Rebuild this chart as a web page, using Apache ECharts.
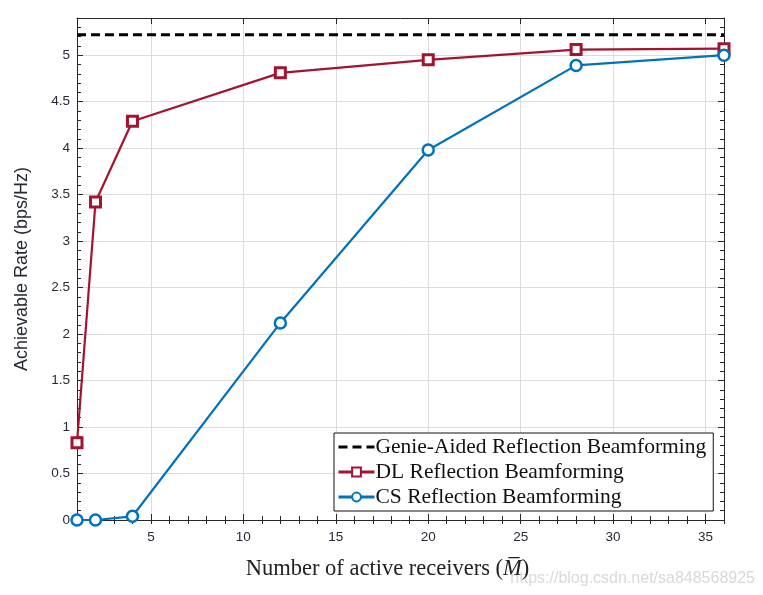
<!DOCTYPE html>
<html><head><meta charset="utf-8">
<script src="https://cdn.jsdelivr.net/npm/echarts@6/dist/echarts.min.js"></script>
<style>html,body{margin:0;padding:0;background:#fff}#c{width:763px;height:595px}</style>
</head><body><div id="c"></div>
<script>
const receivers = [1, 2, 4, 12, 20, 28, 36];
const dlRate = [0.83, 3.42, 4.29, 4.81, 4.95, 5.06, 5.07];
const csRate = [0.0, 0.0, 0.04, 2.12, 3.98, 4.89, 5.00];
const genieRate = 5.22;
const xTicks = [5, 10, 15, 20, 25, 30, 35];
const seriesNames = ['Genie-Aided Reflection Beamforming', 'DL Reflection Beamforming', 'CS Reflection Beamforming'];

const chart = echarts.init(document.getElementById('c'), null, {renderer: 'canvas'});
const txt = '#262a36';
const sans = 'Liberation Sans, Arial, sans-serif';
const serif = 'Liberation Serif, Times New Roman, serif';
const grid = {left: 77, right: 39, top: 18, bottom: 75};
const xBase = {type: 'value', min: 1, max: 36, gridIndex: 0};
const yBase = {type: 'value', min: 0, max: 5.4, gridIndex: 0};
const line = {show: true, onZero: false, lineStyle: {color: '#262626', width: 1}};

const option = {
  backgroundColor: '#fff',
  animation: false,
  grid: grid,
  xAxis: [
    Object.assign({}, xBase, {
      position: 'bottom', splitNumber: 7,
      axisLine: line,
      axisTick: {show: true, inside: true, length: 6, customValues: xTicks, lineStyle: {color: '#262626'}},
      axisLabel: {customValues: xTicks, color: txt, fontFamily: sans, fontSize: 13.5, margin: 10},
      splitLine: {show: true, lineStyle: {color: '#dcdcdc', width: 1}},
      name: '{n|Number of active receivers (}{m|M\u0305}{n|)}',
      nameLocation: 'middle', nameGap: 38,
      nameTextStyle: {padding: [0, 26, 0, 0], rich: {
        n: {fontFamily: serif, fontSize: 22.5, color: '#222'},
        m: {fontFamily: serif, fontSize: 22.5, fontStyle: 'italic', color: '#222'}
      }}
    }),
    Object.assign({}, xBase, {
      position: 'bottom', interval: 1,
      axisLine: {show: false}, axisLabel: {show: false}, splitLine: {show: false},
      axisTick: {show: true, inside: true, length: 4, lineStyle: {color: '#262626'}}
    }),
    Object.assign({}, xBase, {
      position: 'top', splitNumber: 7,
      axisLine: line, axisLabel: {show: false}, splitLine: {show: false},
      axisTick: {show: true, inside: true, length: 6, customValues: xTicks, lineStyle: {color: '#262626'}}
    }),
    Object.assign({}, xBase, {
      position: 'top', interval: 1,
      axisLine: {show: false}, axisLabel: {show: false}, splitLine: {show: false},
      axisTick: {show: true, inside: true, length: 4, lineStyle: {color: '#262626'}}
    })
  ],
  yAxis: [
    Object.assign({}, yBase, {
      position: 'left', interval: 0.5,
      axisLine: line,
      axisTick: {show: true, inside: true, length: 6, lineStyle: {color: '#262626'}},
      axisLabel: {color: txt, fontFamily: sans, fontSize: 13.5, margin: 7, showMaxLabel: false,
        formatter: v => (Math.abs(v - 5.4) < 1e-6 ? '' : String(v))},
      splitLine: {show: true, lineStyle: {color: '#dcdcdc', width: 1}},
      name: 'Achievable Rate (bps/Hz)', nameLocation: 'middle', nameGap: 46,
      nameTextStyle: {fontFamily: sans, fontSize: 18, color: txt}
    }),
    Object.assign({}, yBase, {
      position: 'left', interval: 0.1,
      axisLine: {show: false}, axisLabel: {show: false}, splitLine: {show: false},
      axisTick: {show: true, inside: true, length: 4, lineStyle: {color: '#262626'}}
    }),
    Object.assign({}, yBase, {
      position: 'right', interval: 0.5,
      axisLine: line, axisLabel: {show: false}, splitLine: {show: false},
      axisTick: {show: true, inside: true, length: 6, lineStyle: {color: '#262626'}}
    }),
    Object.assign({}, yBase, {
      position: 'right', interval: 0.1,
      axisLine: {show: false}, axisLabel: {show: false}, splitLine: {show: false},
      axisTick: {show: true, inside: true, length: 4, lineStyle: {color: '#262626'}}
    })
  ],
  legend: {
    left: 334, top: 433,
    orient: 'vertical',
    backgroundColor: '#fff', borderColor: '#111', borderWidth: 1,
    padding: [3, 7, 3, 3], itemGap: 3,
    itemWidth: 36, itemHeight: 11,
    lineStyle: {width: 3},
    textStyle: {fontFamily: serif, fontSize: 21.5, color: '#111', padding: [0, 0, 0, -4]},
    data: [
      {name: seriesNames[0], itemStyle: {opacity: 0}},
      {name: seriesNames[1]},
      {name: seriesNames[2]}
    ]
  },
  graphic: [{
    type: 'text', right: 8, bottom: 8,
    style: {text: 'https://blog.csdn.net/sa848568925', fontFamily: sans, fontSize: 16, fill: 'rgba(200,200,200,0.7)'}
  }],
  series: [
    {
      name: seriesNames[0], type: 'line', xAxisIndex: 0, yAxisIndex: 0,
      data: [[receivers[0], genieRate], [receivers[receivers.length - 1], genieRate]],
      showSymbol: false, symbol: 'none',
      lineStyle: {color: '#000', width: 3, type: [9, 5]}, itemStyle: {color: '#000'}, z: 5
    },
    {
      name: seriesNames[1], type: 'line', xAxisIndex: 0, yAxisIndex: 0,
      data: receivers.map((x, i) => [x, dlRate[i]]),
      symbol: 'rect', symbolSize: 10,
      lineStyle: {color: '#A2142F', width: 2.2},
      itemStyle: {color: '#fff', borderColor: '#A2142F', borderWidth: 3}, z: 4
    },
    {
      name: seriesNames[2], type: 'line', xAxisIndex: 0, yAxisIndex: 0,
      data: receivers.map((x, i) => [x, csRate[i]]),
      symbol: 'circle', symbolSize: 11,
      lineStyle: {color: '#0072BD', width: 2.2},
      itemStyle: {color: '#fff', borderColor: '#0072BD', borderWidth: 2.5}, z: 6
    }
  ]
};
chart.setOption(option);
</script>
</body></html>
